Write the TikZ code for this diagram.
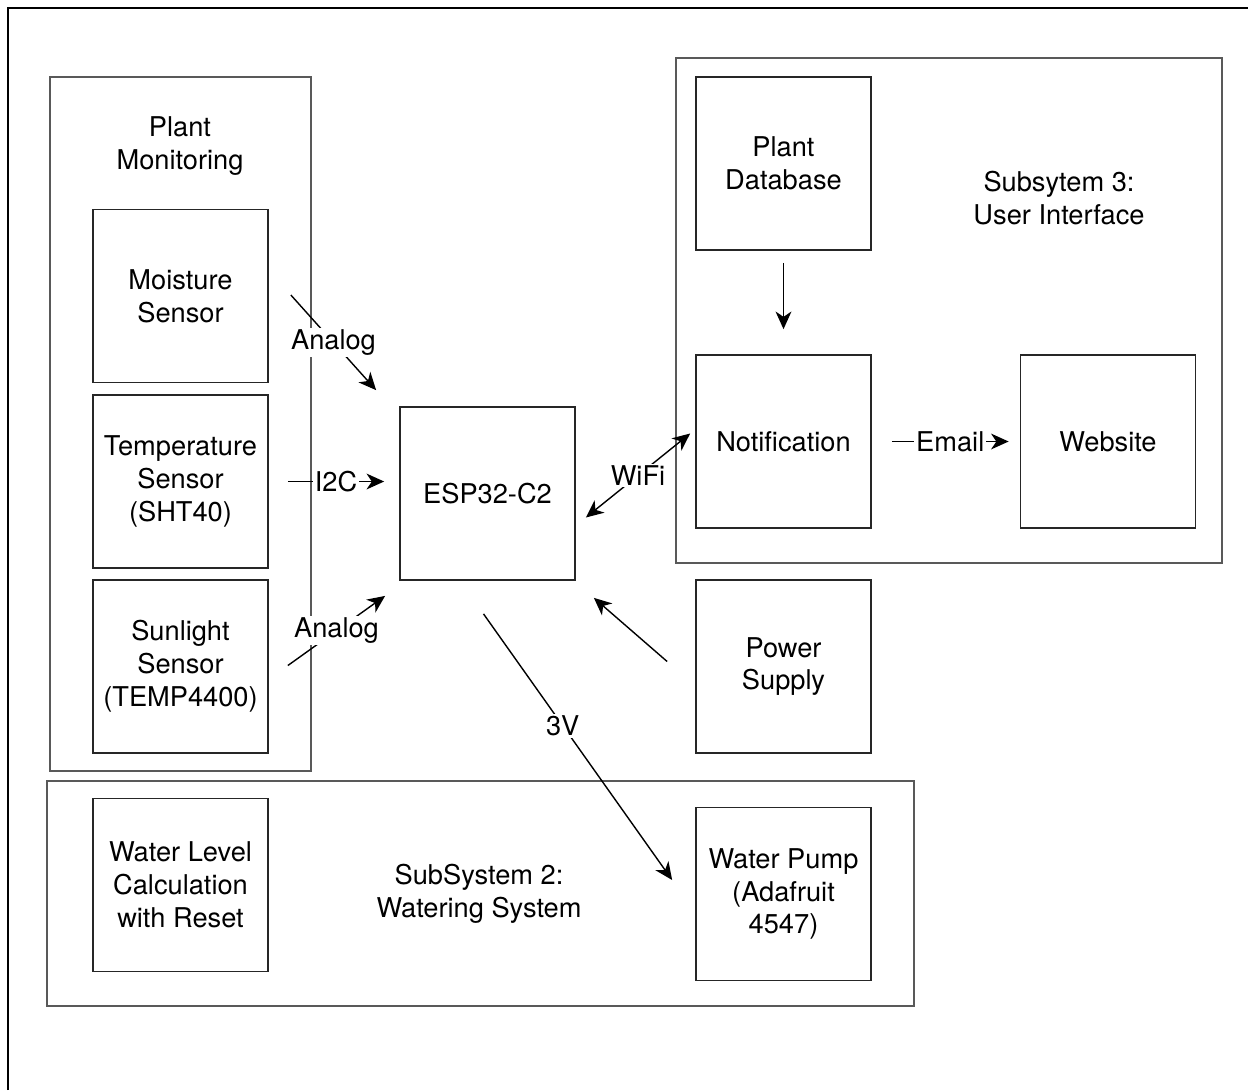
\documentclass[tikz,border=0pt]{standalone}
\usepackage{fontspec}
\setmainfont{TeX Gyre Heros}
\usepackage{tikz}
\usetikzlibrary{calc,arrows.meta,positioning}
\tikzset{
  block/.style={draw=black!85,line width=1pt,minimum width=3.5cm,minimum height=3.46cm,
    align=center,inner sep=2pt},
  group/.style={draw=black!65,line width=1.1pt,inner sep=0pt},
  title/.style={align=center},
  >={Stealth[length=10pt,width=9pt,inset=3pt]},
  flow/.style={->,line width=0.8pt},
  tag/.style={fill=white,inner sep=1pt},
  every node/.style={font=\fontsize{15.5pt}{18.7pt}\selectfont}
}

\begin{document}
\begin{tikzpicture}[x=0.02cm,y=-0.02cm]
  \useasboundingbox (0,0) rectangle (1248,1090);
  % frame
  \draw[line width=1.3pt] (8,1090) -- (8,8) -- (1248,8);
  % groups
  \node[group,minimum width=5.22cm,minimum height=13.88cm] (pm) at (180.5,424) {};
  \node[group,minimum width=10.92cm,minimum height=10.1cm] (ui) at (949,310.5) {};
  \node[group,minimum width=17.34cm,minimum height=4.5cm] (ws) at (480.5,893.5) {};
  \node[title] (pmt) at (180,146) {Plant\\Monitoring};
  \node[title] (uit) at (1059,198) {Subsytem 3:\\User Interface};
  \node[title] (wst) at (479,894) {SubSystem 2:\\Watering System};
  % blocks
  \node[block] (moist) at (180.5,296) {Moisture\\Sensor};
  \node[block] (temp) at (180.5,481.5) {Temperature\\Sensor\\(SHT40)};
  \node[block] (sun) at (180.5,666.5) {Sunlight\\Sensor\\(TEMP4400)};
  \node[block] (esp) at (487.5,493.5) {ESP32-C2};
  \node[block] (db) at (783.5,163.5) {Plant\\Database};
  \node[block] (notif) at (783.5,441.5) {Notification};
  \node[block] (web) at (1108,441.5) {Website};
  \node[block] (power) at (783.5,666.5) {Power\\Supply};
  \node[block] (level) at (180.5,885) {Water Level\\Calculation\\with Reset};
  \node[block] (pump) at (783.5,894) {Water Pump\\(Adafruit\\4547)};
  % links
  \draw[flow] ($(moist.east)+(22,-1)$) -- node[tag] {Analog} ($(esp.north west)+(-23,-16)$);
  \draw[flow] ($(temp.east)+(19,0)$) -- node[tag] {I2C} ($(esp.west)+(-15,-12)$);
  \draw[flow] ($(sun.east)+(19,-1)$) -- node[tag] {Analog} ($(esp.south west)+(-14,15)$);
  \draw[flow,<->] ($(esp.east)+(10,24)$) -- node[tag] {WiFi} ($(notif.west)+(-5,-8)$);
  \draw[flow] ($(db.south)+(0,12)$) -- ($(notif.north)+(0,-25)$);
  \draw[flow] ($(notif.east)+(20,0)$) -- node[tag] {Email} ($(web.west)+(-11,0)$);
  \draw[flow] ($(power.west)+(-28,-5)$) -- ($(esp.south east)+(18,17)$);
  \draw[flow] ($(esp.south)+(-4,33)$) -- node[tag,pos=0.42] {3V} ($(pump.west)+(-23,-14)$);
\end{tikzpicture}
\end{document}
